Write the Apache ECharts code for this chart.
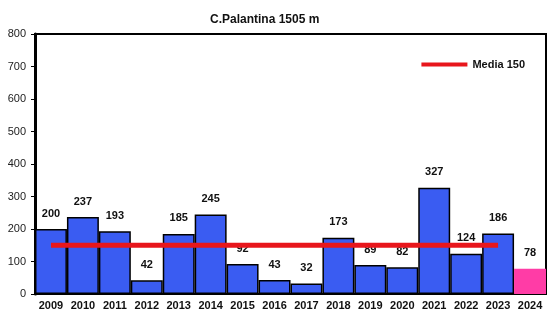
<!DOCTYPE html>
<html>
<head>
<meta charset="utf-8">
<script src="https://cdn.jsdelivr.net/npm/echarts@6/dist/echarts.min.js"></script>
<style>
  html, body { margin: 0; padding: 0; background: #fff; }
  #chart { width: 548px; height: 311px; }
</style>
</head>
<body>
<div id="chart"></div>
<script>
const years = ["2009", "2010", "2011", "2012", "2013", "2014", "2015", "2016",
  "2017", "2018", "2019", "2020", "2021", "2022", "2023", "2024"];
const snow = [200, 237, 193, 42, 185, 245, 92, 43, 32, 173, 89, 82, 327, 124, 186, 78];
const media = [150, 150, 150, 150, 150, 150, 150, 150, 150, 150, 150, 150, 150, 150, 150, "-"];
const yTicks = [0, 100, 200, 300, 400, 500, 600, 700, 800];

const chart = echarts.init(document.getElementById("chart"));

// ultimo anno in rosa
const barData = snow.map(function (v, i) {
  if (i === snow.length - 1) {
    return { value: v, itemStyle: { color: "#ff3ca6", borderColor: "#ff3ca6" } };
  }
  return v;
});

chart.setOption({
  animation: false,
  title: {
    text: "C.Palantina 1505 m",
    left: 205,
    top: 9,
    textStyle: { fontFamily: "Liberation Sans", fontSize: 12, fontWeight: "bold", color: "#111" }
  },
  legend: {
    data: ["Media 150"],
    right: 18,
    top: 54,
    itemWidth: 46,
    itemHeight: 4,
    itemGap: 4,
    icon: "rect",
    textStyle: { fontFamily: "Liberation Sans", fontSize: 11, fontWeight: "bold", color: "#111" }
  },
  grid: {
    left: 35,
    right: 2,
    top: 34,
    bottom: 17,
    show: true,
    borderColor: "#000",
    borderWidth: 2
  },
  xAxis: {
    type: "category",
    data: years,
    axisLine: { lineStyle: { color: "#000", width: 2 } },
    axisTick: { show: false },
    axisLabel: {
      margin: 6,
      fontFamily: "Liberation Sans",
      fontSize: 11,
      fontWeight: "bold",
      color: "#111"
    }
  },
  yAxis: {
    type: "value",
    min: yTicks[0],
    max: yTicks[yTicks.length - 1],
    interval: 100,
    splitLine: { show: false },
    axisLine: { show: true, lineStyle: { color: "#000", width: 3 } },
    axisTick: { show: true, length: 4, lineStyle: { color: "#000" } },
    axisLabel: {
      margin: 9,
      fontFamily: "Liberation Sans",
      fontSize: 11,
      color: "#222"
    }
  },
  series: [
    {
      name: "Neve",
      type: "bar",
      data: barData,
      barCategoryGap: 0,
      itemStyle: { color: "#3a5cf2", borderColor: "#000", borderWidth: 1.5 },
      label: {
        show: true,
        position: "top",
        distance: 10,
        fontFamily: "Liberation Sans",
        fontSize: 11,
        fontWeight: "bold",
        color: "#111"
      },
      z: 2
    },
    {
      name: "Media 150",
      type: "line",
      data: media,
      symbol: "none",
      lineStyle: { color: "#e8161c", width: 5 },
      itemStyle: { color: "#e8161c" },
      z: 3
    }
  ]
});
</script>
</body>
</html>
